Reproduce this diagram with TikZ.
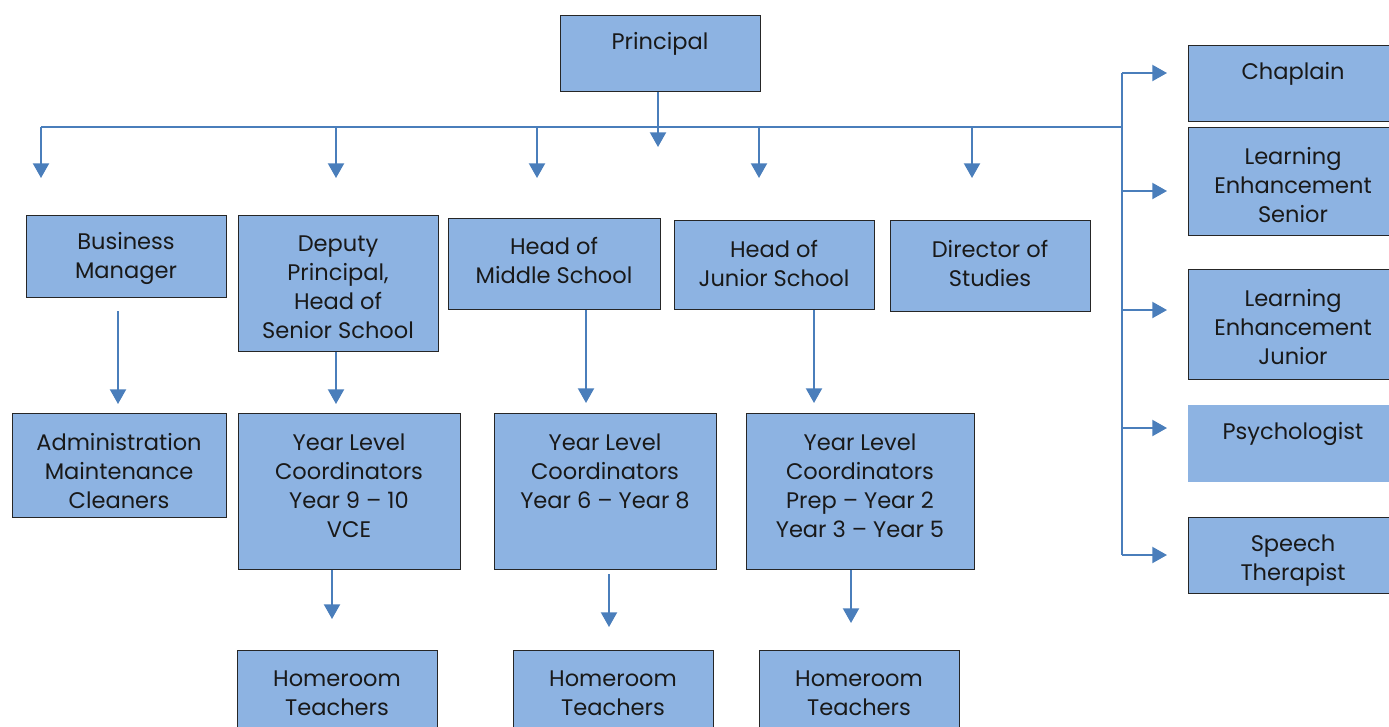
\documentclass[tikz,border=0pt]{standalone}
\usepackage{fontspec}
\setmainfont{Poppins}
\usetikzlibrary{arrows.meta}
\definecolor{boxblue}{HTML}{8DB3E2}
\definecolor{lineblue}{HTML}{4A7EBB}
\tikzset{
  bx/.style 2 args={draw=black!85, line width=0.9pt, fill=boxblue, minimum width=#1*0.75pt, minimum height=#2*0.75pt, anchor=north west, inner sep=0pt},
  nobx/.style 2 args={fill=boxblue, minimum width=#1*0.75pt, minimum height=#2*0.75pt, anchor=north west, inner sep=0pt},
  txt/.style={align=center, inner sep=0pt, yshift=-1.5pt, font=\fontsize{16.9pt}{21.75pt}\selectfont, text=black!90},
  arr/.style={draw=lineblue, line width=1.5pt, -{Triangle[width=12pt,length=11pt]}},
  bus/.style={draw=lineblue, line width=1.2pt}
}
\begin{document}
\begin{tikzpicture}[x=0.75pt,y=-0.75pt]
\useasboundingbox (0,0) rectangle (1389,726);
\clip (0,0) rectangle (1389,726);
% boxes
\node[bx={200}{76}] (pr) at (560,15) {};
\node[txt] at (660,42) {Principal};
\node[bx={200}{82}] (bm) at (26,215) {};
\node[txt] at (126,256.5) {Business\\Manager};
\node[bx={200}{136}] (dp) at (238,215) {};
\node[txt] at (338,285.5) {Deputy\\Principal,\\Head of\\Senior School};
\node[bx={212}{91}] (hm) at (448,218) {};
\node[txt] at (554,258.5) {Head of\\Middle School};
\node[bx={200}{89}] (hj) at (674,220) {};
\node[txt] at (774,261) {Head of\\Junior School};
\node[bx={200}{91}] (ds) at (890,220) {};
\node[txt] at (990,261) {Director of\\Studies};
% right column
\node[bx={206}{76}] (ch) at (1188,45) {};
\node[txt] at (1293,72) {Chaplain};
\node[bx={206}{108}] (les) at (1188,127) {};
\node[txt] at (1293,183) {Learning\\Enhancement\\Senior};
\node[bx={206}{110}] (lej) at (1188,269) {};
\node[txt] at (1293,325.5) {Learning\\Enhancement\\Junior};
\node[nobx={206}{77}] (ps) at (1188,405) {};
\node[txt] at (1293,432) {Psychologist};
\node[bx={206}{76}] (sp) at (1188,517) {};
\node[txt] at (1293,558.5) {Speech\\Therapist};
% second level
\node[bx={214}{104}] (ad) at (12,413) {};
\node[txt] at (119,469) {Administration\\Maintenance\\Cleaners};
\node[bx={222}{156}] (ys) at (238,413) {};
\node[txt] at (349,483.5) {Year Level\\Coordinators\\Year 9 – 10\\VCE};
\node[bx={222}{156}] (ym) at (494,413) {};
\node[txt] at (605,469) {Year Level\\Coordinators\\Year 6 – Year 8};
\node[bx={228}{156}] (yj) at (746,413) {};
\node[txt] at (860,483.5) {Year Level\\Coordinators\\Prep – Year 2\\Year 3 – Year 5};
% homeroom
\node[bx={200}{82}] (hs) at (237,650) {};
\node[txt] at (337,691) {Homeroom\\Teachers};
\node[bx={200}{82}] (hmm) at (513,650) {};
\node[txt] at (613,691) {Homeroom\\Teachers};
\node[bx={200}{82}] (hjj) at (759,650) {};
\node[txt] at (859,691) {Homeroom\\Teachers};
% connector coordinates
\coordinate (busL) at (41,127);
\coordinate (busR) at (1122,127);
\coordinate (vtop) at (1122,73);
\coordinate (vbot) at (1122,555);
\coordinate (prT) at (658,147);
\foreach \n/\x in {1/41,2/336,3/537,4/759,5/972}{
  \coordinate (s\n) at (\x,127);
  \coordinate (t\n) at (\x,178);
}
\foreach \n/\y in {1/73,2/191,3/310,4/428,5/555}{
  \coordinate (rs\n) at (1122,\y);
  \coordinate (rt\n) at (1167,\y);
}
\coordinate (bmS) at (118,311);
\coordinate (bmT) at (118,404);
\coordinate (dpT) at (336,404);
\coordinate (hmT) at (586,403);
\coordinate (hjT) at (814,403);
\coordinate (ysT) at (332,619);
\coordinate (ymT) at (609,627);
\coordinate (yjT) at (851,623);
% lines
\draw[bus] (busL) -- (busR);
\draw[bus] (vtop) -- (vbot);
\draw[arr] (pr.south -| prT) -- (prT);
\foreach \n in {1,...,5}{
  \draw[arr] (s\n) -- (t\n);
  \draw[arr] (rs\n) -- (rt\n);
}
\draw[arr] (bmS) -- (bmT);
\draw[arr] (dp.south -| dpT) -- (dpT);
\draw[arr] (hm.south -| hmT) -- (hmT);
\draw[arr] (hj.south -| hjT) -- (hjT);
\draw[arr] (ys.south -| ysT) -- (ysT);
\draw[arr] ([yshift=-3pt]ym.south -| ymT) -- (ymT);
\draw[arr] (yj.south -| yjT) -- (yjT);
\end{tikzpicture}
\end{document}
